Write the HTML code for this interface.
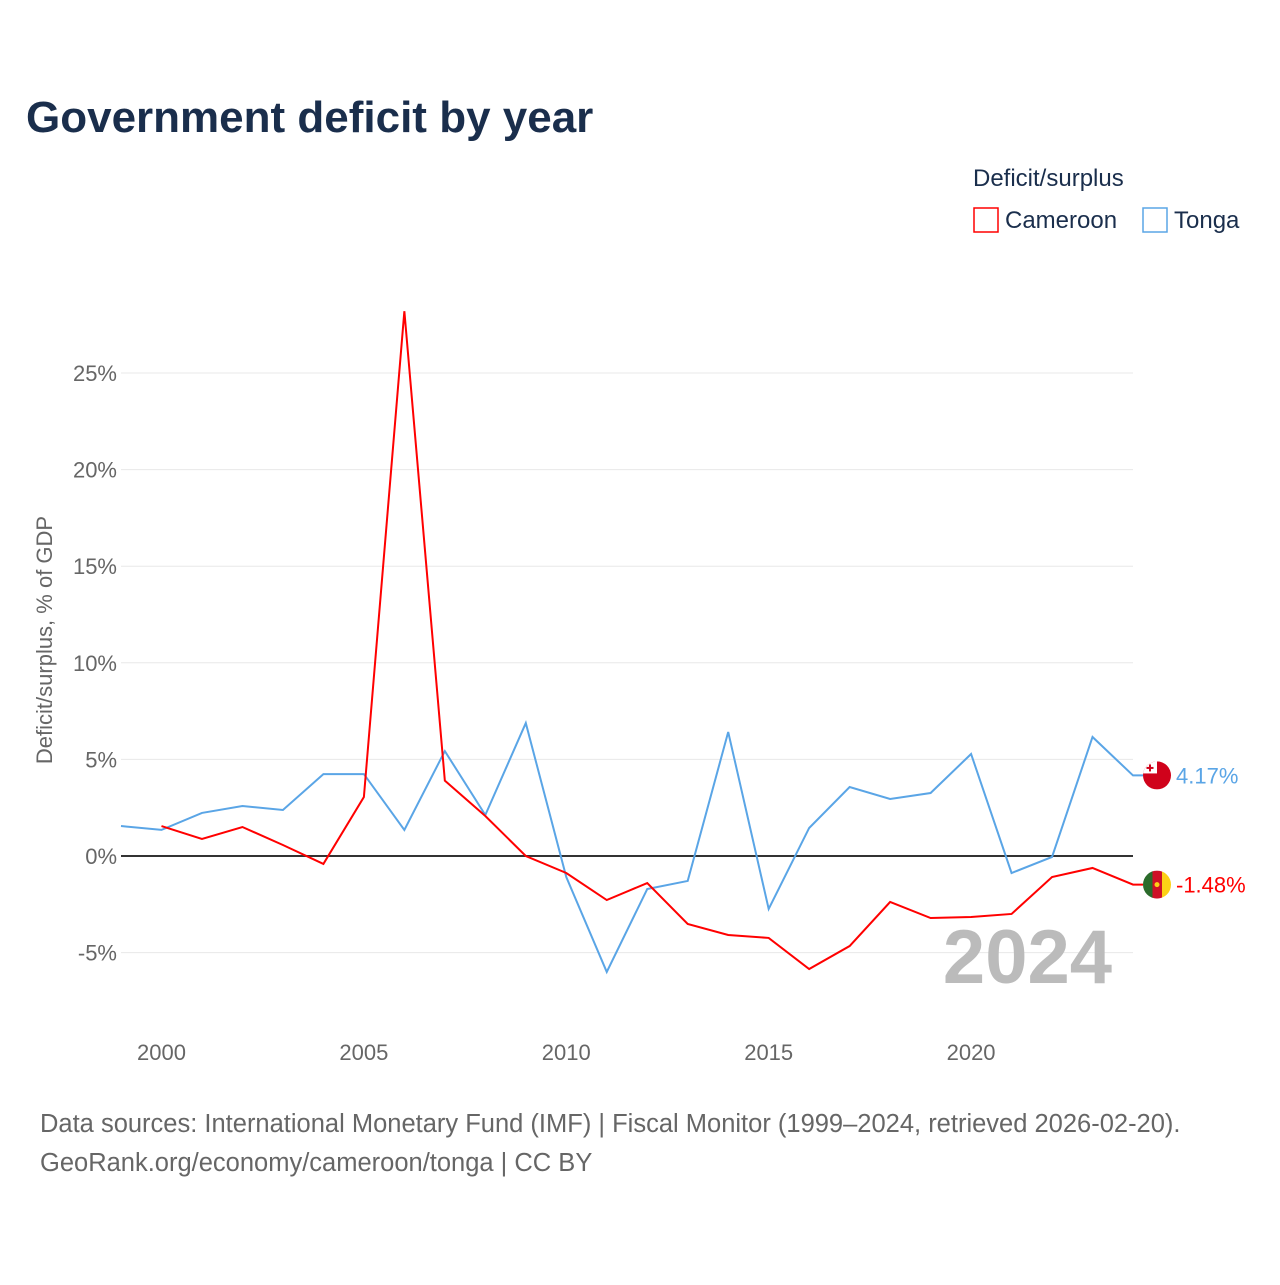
<!DOCTYPE html>
<html><head><meta charset="utf-8"><style>
body{margin:0;background:#fff;width:1280px;height:1280px;overflow:hidden;font-family:"Liberation Sans",sans-serif}
</style></head><body>
<svg width="1280" height="1280">
<defs><clipPath id="cc"><circle cx="0" cy="0" r="14"/></clipPath></defs>
<text x="26" y="132" font-size="44" font-weight="bold" fill="#1a2e4c">Government deficit by year</text>
<text x="973" y="186" font-size="24" fill="#1a2e4c">Deficit/surplus</text>
<g><rect x="974" y="208" width="24" height="24" fill="none" stroke="#f00" stroke-width="1.5"/><text x="1005" y="228" font-size="24" fill="#1a2e4c">Cameroon</text></g>
<g><rect x="1143" y="208" width="24" height="24" fill="none" stroke="#5aa5e6" stroke-width="1.5"/><text x="1174" y="228" font-size="24" fill="#1a2e4c">Tonga</text></g>
<g id="grid"></g><g id="xt"></g>
<text transform="translate(52,640) rotate(-90)" text-anchor="middle" font-size="22" fill="#666">Deficit/surplus, % of GDP</text>
<text x="1112" y="983" text-anchor="end" font-size="76" font-weight="bold" fill="#bbb">2024</text>
<g id="lines"></g>
<text x="40" y="1132" font-size="25.5" fill="#666">Data sources: International Monetary Fund (IMF) | Fiscal Monitor (1999–2024, retrieved 2026-02-20).</text>
<text x="40" y="1171" font-size="25.5" fill="#666">GeoRank.org/economy/cameroon/tonga | CC BY</text>
</svg>
<script>
const yTicks=[-5,0,5,10,15,20,25];
const xTicks=[2000,2005,2010,2015,2020];
const camYears=[2000,2001,2002,2003,2004,2005,2006,2007,2008,2009,2010,2011,2012,2013,2014,2015,2016,2017,2018,2019,2020,2021,2022,2023,2024];
const camVals=[1.55,0.88,1.5,0.57,-0.41,3.05,28.2,3.9,2.07,0,-0.88,-2.28,-1.4,-3.52,-4.09,-4.24,-5.85,-4.66,-2.38,-3.21,-3.16,-3.0,-1.09,-0.62,-1.48];
const tonYears=[1999,2000,2001,2002,2003,2004,2005,2006,2007,2008,2009,2010,2011,2012,2013,2014,2015,2016,2017,2018,2019,2020,2021,2022,2023,2024];
const tonVals=[1.55,1.35,2.23,2.59,2.38,4.24,4.24,1.35,5.43,2.12,6.88,-1.09,-6.0,-1.71,-1.29,6.42,-2.74,1.45,3.57,2.95,3.26,5.28,-0.88,-0.05,6.16,4.17];
const X=v=>121+(v-1999)*40.48, Y=v=>856-v*19.32;
const ns="http://www.w3.org/2000/svg";
function mk(p,t,a){const e=document.createElementNS(ns,t);for(const k in a)e.setAttribute(k,a[k]);(typeof p=='string'?document.getElementById(p):p).appendChild(e);return e;}
yTicks.forEach(t=>{
 const l=mk('grid','line',{x1:121,x2:1133,y1:Y(t),y2:Y(t),stroke:t==0?'#333':'#e8e8e8','stroke-width':t==0?2:1});
 
 
 const s=mk('grid','text',{x:117,y:Y(t)+8,'text-anchor':'end','font-size':22,fill:'#666'});s.textContent=t+'%';
 
 
});
xTicks.forEach(t=>{
 const s=mk('xt','text',{x:X(t),y:1060,'text-anchor':'middle','font-size':22,fill:'#666'});s.textContent=t;
 
 
});
function series(ys,vs,c,name){
 const n=vs.length-1,cx=X(ys[n])+24,cy=Y(vs[n]);
 const pts=ys.map((y,i)=>X(y)+','+Y(vs[i]));pts.push((cx-14)+','+cy);
 const p=mk('lines','polyline',{points:pts.join(' '),fill:'none',stroke:c,'stroke-width':2});
 
 
 const g=mk('lines','g',{transform:'translate('+cx+','+cy+')','clip-path':'url(#cc)'});
 
 
 if(name=='tonga'){
  mk(g,'rect',{x:-14,y:-14,width:28,height:28,fill:'#d0021b'});
  mk(g,'rect',{x:-14,y:-14,width:14,height:12,fill:'#fff'});
  mk(g,'rect',{x:-8,y:-11,width:2,height:7,fill:'#d0021b'});
  mk(g,'rect',{x:-10.5,y:-8.5,width:7,height:2,fill:'#d0021b'});
 } else {
  mk(g,'rect',{x:-14,y:-14,width:10,height:28,fill:'#2b6b2b'});
  mk(g,'rect',{x:-4.5,y:-14,width:9.5,height:28,fill:'#ce1126'});
  mk(g,'rect',{x:5,y:-14,width:9,height:28,fill:'#fcd116'});
  mk(g,'circle',{cx:0,cy:0,r:2.5,fill:'#fcd116'});
 }
 const t=mk('lines','text',{x:cx+19,y:cy+8,'font-size':22,fill:c});t.textContent=vs[n].toFixed(2)+'%';
 
 
}
series(tonYears,tonVals,'#5aa5e6','tonga');
series(camYears,camVals,'#f00','cameroon');
</script>
</body></html>
